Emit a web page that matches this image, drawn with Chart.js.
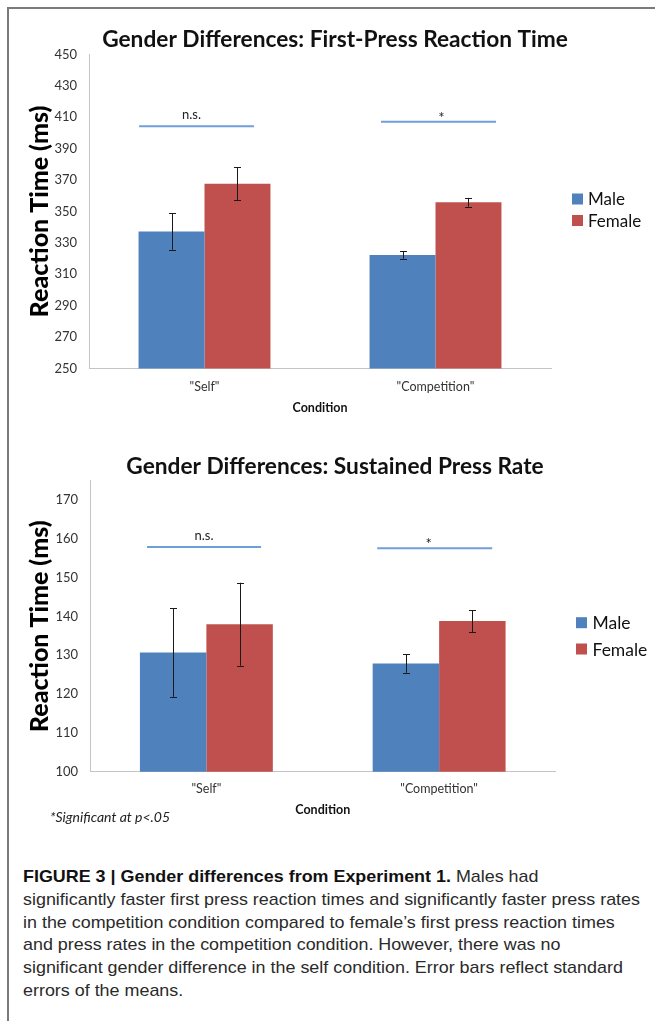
<!DOCTYPE html>
<html>
<head>
<meta charset="utf-8">
<script src="https://cdn.jsdelivr.net/npm/chart.js@4.4.1/dist/chart.umd.min.js"></script>
<style>
  html, body { margin:0; padding:0; background:#fff; }
  body { width:655px; height:1021px; overflow:hidden; position:relative; }
  #frame { position:absolute; left:7px; top:7px; width:700px; height:1100px;
           border-top:2px solid #7a7a7a; border-left:2px solid #7a7a7a; }
  .wrap { position:absolute; left:0; width:655px; }
  #w1 { top:0; height:430px; }
  #w2 { top:440px; height:400px; }
  #note { position:absolute; left:50px; top:808px; font-family:Lato, sans-serif; font-style:italic;
          font-size:14px; color:#222; white-space:nowrap; }
  #caption { position:absolute; left:23px; top:866px; font-family:"Liberation Sans Narrow","Arial Narrow","Liberation Sans",Arial,sans-serif;
             font-size:17px; color:#2a2a2a; }
  #caption div { white-space:nowrap; height:22.8px; line-height:22.8px; transform-origin:0 50%; }
  #caption b { color:#111; }
</style>
</head>
<body>
<div id="frame"></div>
<div class="wrap" id="w1"><canvas id="c1"></canvas></div>
<div class="wrap" id="w2"><canvas id="c2"></canvas></div>
<div id="note">*Significant at p&lt;.05</div>
<div id="caption">
  <div><b>FIGURE 3 | Gender differences from Experiment 1.</b> Males had</div>
  <div>significantly faster first press reaction times and significantly faster press rates</div>
  <div>in the competition condition compared to female’s first press reaction times</div>
  <div>and press rates in the competition condition. However, there was no</div>
  <div>significant gender difference in the self condition. Error bars reflect standard</div>
  <div>errors of the means.</div>
</div>
<script>
// ---------- data ----------
const categories = ['"Self"', '"Competition"'];
const seriesNames = ['Male', 'Female'];
const sigLabels = ['n.s.', '*'];

const firstPressMale = [337.2, 322.2];
const firstPressMaleErr = [11.6, 2.3];
const firstPressFemale = [367.6, 355.8];
const firstPressFemaleErr = [10.6, 2.8];
const firstPressSig = [404.2, 407.1];
const firstPressTicks = [250, 270, 290, 310, 330, 350, 370, 390, 410, 430, 450];

const pressRateMale = [130.7, 127.9];
const pressRateMaleErr = [11.4, 2.4];
const pressRateFemale = [138.0, 138.8];
const pressRateFemaleErr = [10.7, 2.8];
const pressRateSig = [157.9, 157.6];
const pressRateTicks = [100, 110, 120, 130, 140, 150, 160, 170];

const titles = ['Gender Differences: First-Press Reaction Time', 'Gender Differences: Sustained Press Rate'];
const yTitle = 'Reaction Time (ms)';
const xTitle = 'Condition';

// ---------- styles ----------
const BLUE = '#4F81BD', RED = '#C0504D';
const FONT = 'Lato, "Noto Sans", sans-serif';
const AXIS_GRAY = '#c4c4c4';

// caption fit
(function(){
  const divs = document.querySelectorAll('#caption div');
  const ref = divs[1];
  const w = ref.getBoundingClientRect().width;
  const s = 617 / w;
  divs.forEach(d => d.style.transform = 'scaleX(' + s + ')');
})();

const errorBarPlugin = {
  id: 'errorBars',
  afterDatasetsDraw(chart) {
    const ctx = chart.ctx, y = chart.scales.y;
    chart.data.datasets.forEach((ds, i) => {
      const meta = chart.getDatasetMeta(i);
      meta.data.forEach((el, j) => {
        const v = ds.data[j], e = ds.errors[j];
        const yt = y.getPixelForValue(v + e), yb = y.getPixelForValue(v - e);
        const x = Math.round(el.x) + 0.5;
        ctx.save();
        ctx.strokeStyle = '#1a1a1a';
        ctx.lineWidth = 1;
        ctx.beginPath();
        ctx.moveTo(x, yt); ctx.lineTo(x, yb);
        ctx.moveTo(x - 3.5, Math.round(yt) + 0.5); ctx.lineTo(x + 3.5, Math.round(yt) + 0.5);
        ctx.moveTo(x - 3.5, Math.round(yb) + 0.5); ctx.lineTo(x + 3.5, Math.round(yb) + 0.5);
        ctx.stroke();
        ctx.restore();
      });
    });
  }
};

const sigPlugin = {
  id: 'sigBars',
  afterDatasetsDraw(chart, args, opts) {
    const ctx = chart.ctx, x = chart.scales.x, y = chart.scales.y;
    const cw = (x.right - x.left) / chart.data.labels.length;
    opts.values.forEach((v, j) => {
      const cx = x.getPixelForValue(j);
      const [a, b] = opts.spans[j];
      const x0 = cx + a * cw, x1 = cx + b * cw;
      const py = y.getPixelForValue(v);
      ctx.save();
      ctx.strokeStyle = '#6f9fd9';
      ctx.lineWidth = 2;
      ctx.beginPath(); ctx.moveTo(x0, py); ctx.lineTo(x1, py); ctx.stroke();
      ctx.fillStyle = '#222';
      ctx.font = opts.sizes[j] + 'px ' + FONT;
      ctx.textAlign = 'center';
      ctx.textBaseline = 'alphabetic';
      ctx.fillText(opts.labels[j], (x0 + x1) / 2 + opts.dx[j], py - opts.dy[j]);
      ctx.restore();
    });
  }
};

const legendPlugin = {
  id: 'sideLegend',
  afterDraw(chart, args, opts) {
    const ctx = chart.ctx, area = chart.chartArea;
    chart.data.datasets.forEach((ds, i) => {
      const cy = opts.top + i * opts.gap;
      const bx = area.right + opts.dx;
      ctx.save();
      ctx.fillStyle = ds.backgroundColor;
      ctx.fillRect(bx, cy - 5.5, 11, 11);
      ctx.fillStyle = '#111';
      ctx.font = opts.fontSize + 'px ' + FONT;
      ctx.textBaseline = 'middle';
      ctx.textAlign = 'left';
      ctx.fillText(ds.label, bx + opts.textDx, cy + 1);
      ctx.restore();
    });
  }
};

function makeChart(id, cfg) {
  return new Chart(document.getElementById(id), {
    type: 'bar',
    data: {
      labels: categories,
      datasets: [
        { label: seriesNames[0], data: cfg.male, errors: cfg.maleErr, backgroundColor: BLUE, yAxisID: 'y' },
        { label: seriesNames[1], data: cfg.female, errors: cfg.femaleErr, backgroundColor: RED, yAxisID: 'y' }
      ]
    },
    options: {
      responsive: true,
      maintainAspectRatio: false,
      animation: false,
      layout: { padding: { left: 15, right: 0, top: 0, bottom: 0 } },
      datasets: { bar: { categoryPercentage: 0.571, barPercentage: 1.0, borderWidth: 0 } },
      plugins: {
        legend: { display: false },
        tooltip: { enabled: false },
        title: {
          display: true, text: cfg.title, color: '#111',
          font: { family: FONT, size: 22.7, weight: 'bold', lineHeight: 1.2 },
          padding: { top: cfg.titleTop, bottom: cfg.titleBottom }
        },
        sigBars: { values: cfg.sig, labels: sigLabels, spans: cfg.spans, dx: cfg.sigDx, dy: cfg.sigDy, sizes: [13, 15] },
        sideLegend: cfg.legend
      },
      scales: {
        x: {
          grid: { display: false, drawTicks: false },
          border: { display: true, color: AXIS_GRAY, width: 1 },
          ticks: { color: '#333', font: { family: FONT, size: 12.5 }, padding: cfg.xTickPad, maxRotation: 0 },
          title: { display: true, text: xTitle, color: '#111', font: { family: FONT, size: 12.5, weight: 'bold', lineHeight: 1.2 },
                   padding: { top: 0, bottom: cfg.xTitlePad } },
          afterFit: s => { s.height = cfg.xAxisH; }
        },
        y: {
          position: 'left',
          min: cfg.ticks[0], max: cfg.yMax,
          afterBuildTicks: s => { s.ticks = cfg.ticks.map(v => ({ value: v })); },
          grid: { display: false, drawTicks: false },
          border: { display: true, color: AXIS_GRAY, width: 1 },
          ticks: { color: '#333', font: { family: FONT, size: 13 }, padding: 12 },
          title: { display: true, text: yTitle, color: '#000', font: { family: FONT, size: 25, weight: '900', lineHeight: 1.2 },
                   padding: { top: 10, bottom: 0 } },
          afterFit: s => { s.width = cfg.yAxisW; }
        },
        yR: {
          position: 'right',
          display: true,
          grid: { display: false, drawTicks: false },
          border: { display: false },
          ticks: { display: false },
          afterFit: s => { s.width = cfg.rightW; }
        }
      }
    },
    plugins: [errorBarPlugin, sigPlugin, legendPlugin]
  });
}

makeChart('c1', {
  title: titles[0], male: firstPressMale, maleErr: firstPressMaleErr,
  female: firstPressFemale, femaleErr: firstPressFemaleErr,
  sig: firstPressSig, spans: [[-0.283, 0.214], [-0.236, 0.262]], sigDx: [-5, 3], sigDy: [7, -1],
  ticks: firstPressTicks, yMax: 450,
  titleTop: 26.4, titleBottom: 0.7,
  xAxisH: 61.5, xTickPad: 11, xTitlePad: 14.8,
  yAxisW: 74, rightW: 104,
  legend: { top: 199, gap: 21.5, dx: 21, textDx: 16, fontSize: 17 }
});

makeChart('c2', {
  title: titles[1], male: pressRateMale, maleErr: pressRateMaleErr,
  female: pressRateFemale, femaleErr: pressRateFemaleErr,
  sig: pressRateSig, spans: [[-0.255, 0.235], [-0.266, 0.228]], sigDx: [0, -6], sigDy: [7, -1],
  ticks: pressRateTicks, yMax: 175,
  titleTop: 13.4, titleBottom: 0,
  xAxisH: 68.3, xTickPad: 10, xTitlePad: 22.8,
  yAxisW: 75, rightW: 99.5,
  legend: { top: 182.7, gap: 26.3, dx: 20.5, textDx: 16.5, fontSize: 17.5 }
});
</script>
</body>
</html>
